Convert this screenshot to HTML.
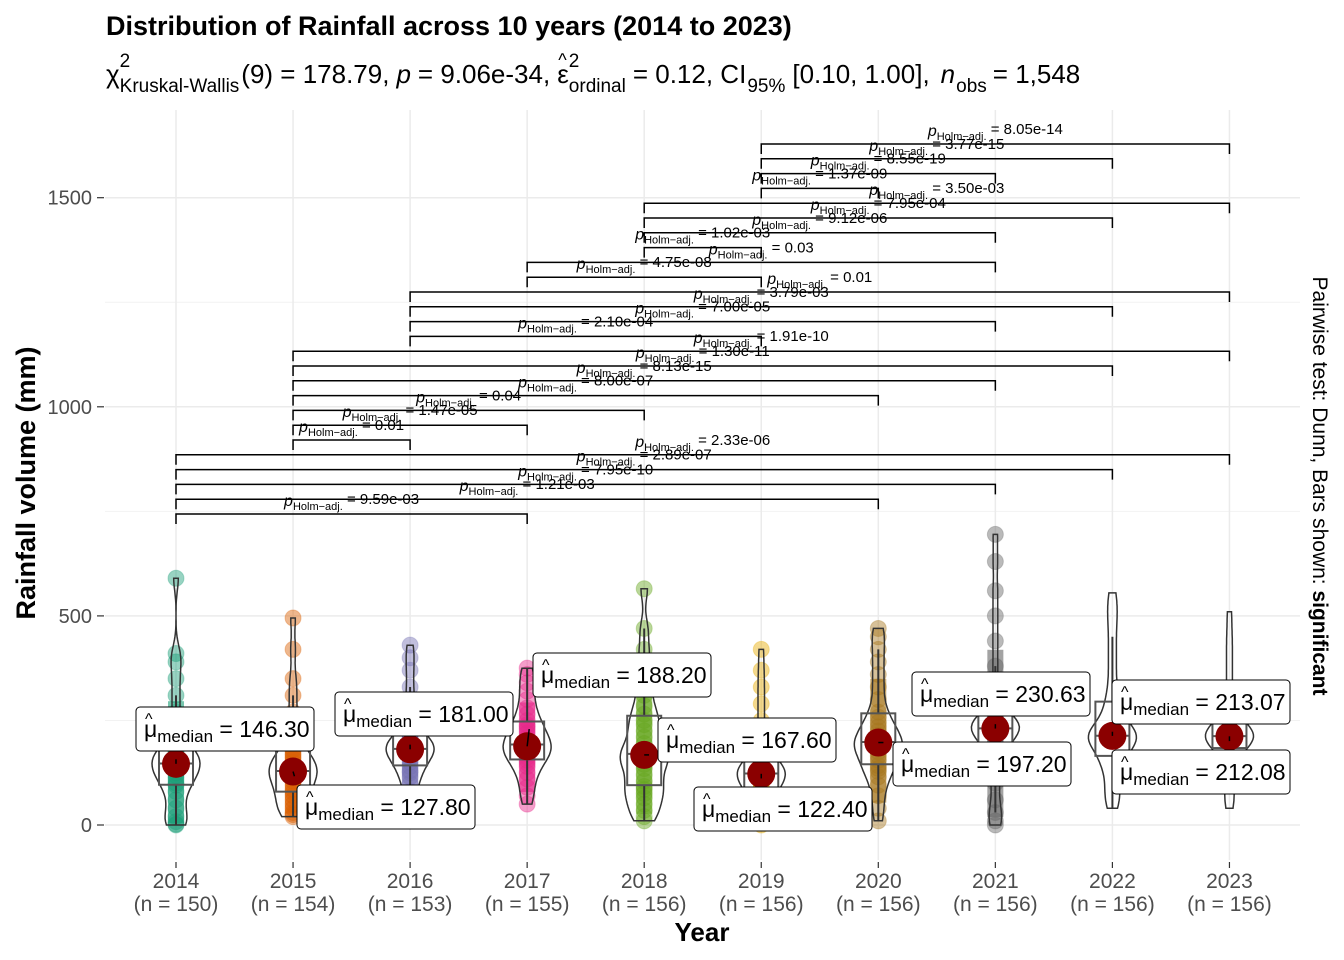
<!DOCTYPE html>
<html><head><meta charset="utf-8"><style>
html,body{margin:0;padding:0;background:#fff;}
svg{display:block;font-family:"Liberation Sans",Arial,sans-serif;}
#subtitle text{white-space:pre;}
</style></head><body>
<svg id="chart" width="1344" height="960" viewBox="0 0 1344 960" xmlns="http://www.w3.org/2000/svg">
<rect width="1344" height="960" fill="#fff"/>
<g id="grid"></g>
<g id="brackets"></g>
<g id="violins"></g>
<g id="labels"></g>
<g id="axes"></g>
<text x="106" y="35" font-size="27" font-weight="bold" fill="#000">Distribution of Rainfall across 10 years (2014 to 2023)</text>
<g id="subtitle" fill="#000"></g>
<text x="702" y="941" font-size="26" font-weight="bold" text-anchor="middle">Year</text>
<text transform="translate(35,483) rotate(-90)" font-size="27" font-weight="bold" text-anchor="middle">Rainfall volume (mm)</text>
<text transform="translate(1313,486) rotate(90)" font-size="21" text-anchor="middle">Pairwise test: Dunn, Bars shown: <tspan font-weight="bold">significant</tspan></text>
</svg>
<script>
const years = ['2014','2015','2016','2017','2018','2019','2020','2021','2022','2023'];
const counts = [150,154,153,155,156,156,156,156,156,156];
const medians = [146.30,127.80,181.00,188.20,167.60,122.40,197.20,230.63,213.07,212.08];
const yTicks = [0,500,1000,1500];
const pts2014 = [0,2,8,20,40,60,80,95,100,110,118,125,132,140,146,148,152,160,166,172,178,185,200,230,270,310,350,390,410,590];
const pts2015 = [20,25,30,40,50,60,70,78,85,95,105,112,120,125,128,130,135,140,150,158,165,172,180,200,230,270,310,350,420,495];
const pts2016 = [40,60,80,100,115,125,130,140,150,160,168,173,177,180,181,183,186,190,195,200,205,210,220,240,270,300,330,370,400,430];
const pts2017 = [50,70,90,110,125,140,148,155,162,170,176,182,186,188,190,195,200,210,220,228,235,240,250,265,280,300,320,340,360,375];
const pts2018 = [10,20,35,50,65,75,85,92,105,120,135,145,155,162,168,172,180,195,210,225,240,250,265,285,310,340,380,420,470,565];
const pts2019 = [0,10,25,40,55,65,75,82,90,98,105,110,115,120,122,124,128,132,138,142,146,150,160,180,210,250,290,330,370,420];
const pts2020 = [10,40,70,95,115,128,135,142,155,165,175,182,188,194,197,200,206,215,225,235,245,258,270,300,330,360,390,420,450,470];
const pts2021 = [0,10,30,60,100,130,155,170,185,198,210,218,224,228,230,232,235,240,245,250,255,258,280,320,380,440,500,560,630,695];
const pts2022 = [40,60,80,100,125,145,155,162,175,188,198,205,210,212,213,214,218,225,235,250,265,280,300,330,370,410,450,490,520,555];
const pts2023 = [40,60,85,110,140,160,175,182,190,198,204,208,210,211,212,213,215,220,225,230,235,240,250,270,300,340,380,420,460,510];
const pairA = ['2014','2014','2014','2014','2014','2015','2015','2015','2015','2015','2015','2015','2016','2016','2016','2016','2017','2017','2018','2018','2018','2018','2019','2019','2019','2019'];
const pairB = ['2017','2020','2021','2022','2023','2016','2017','2018','2020','2021','2022','2023','2019','2021','2022','2023','2019','2021','2019','2021','2022','2023','2020','2021','2022','2023'];
const pairP = ['9.59e-03','1.21e-03','7.95e-10','2.89e-07','2.33e-06','0.01','1.47e-05','0.04','8.00e-07','8.13e-15','1.30e-11','1.91e-10','2.10e-04','7.00e-05','3.79e-03','0.01','4.75e-08','0.03','1.02e-03','9.12e-06','7.95e-04','3.50e-03','1.37e-09','8.55e-19','3.77e-15','8.05e-14'];

const allPts = [pts2014,pts2015,pts2016,pts2017,pts2018,pts2019,pts2020,pts2021,pts2022,pts2023];
const colors = ['#1B9E77','#D95F02','#7570B3','#E7298A','#66A61E','#E6AB02','#A6761D','#666666',null,null];
const labelBoxes = [[136,707],[297,785],[335,692],[533,653],[658,718],[694,787],[893,742],[912,672],[1112,680],[1112,750]];

const NS='http://www.w3.org/2000/svg';
function el(tag, attrs, parent){const e=document.createElementNS(NS,tag);for(const k in attrs)e.setAttribute(k,attrs[k]);parent.appendChild(e);return e;}
const xOf = i => 176 + i*117.05;
const yOf = v => 825 - v*0.4182;
const xOfYear = y => xOf(years.indexOf(y));

// subtitle flowing layout
(function(){
 const sg=document.getElementById('subtitle');
 let x=106; const base=83; const SP=7;
 function seg(t,size,dy,it){const e=el('text',{x:x,y:base+dy,'font-size':size},sg);if(it)e.setAttribute('font-style','italic');e.textContent=t;return e.getComputedTextLength();}
 function stack(sup,sub){const a=seg(sup,19,-16),b=seg(sub,19,9);x+=Math.max(a,b)+2;}
 x+=seg('χ',26,0); stack('2','Kruskal-Wallis');
 x+=seg('(9) = 178.79,',26,0)+SP; x+=seg('p',26,0,true)+SP; x+=seg('= 9.06e-34,',26,0)+SP;
 const ex=x; x+=seg('ε',26,0); const hx=x; x=ex+1; seg('^',18,-17); x=hx;
 stack('2','ordinal'); x+=5;
 x+=seg('= 0.12, CI',26,0)+1; x+=seg('95%',19,9)+7; x+=seg('[0.10, 1.00],',26,0)+SP+4;
 x+=seg('n',26,0,true)+1; x+=seg('obs',19,9)+6; seg('= 1,548',26,0);
})();

const grid=document.getElementById('grid');
[250,750,1250].forEach(v=>{const l=el('line',{x1:105,x2:1300,y1:yOf(v),y2:yOf(v),stroke:'#f2f2f2','stroke-width':1},grid);

});
yTicks.forEach(v=>{const l=el('line',{x1:105,x2:1300,y1:yOf(v),y2:yOf(v),stroke:'#ebebeb','stroke-width':1.5},grid);

});
years.forEach((y,i)=>{const l=el('line',{x1:xOf(i),x2:xOf(i),y1:110,y2:860,stroke:'#ebebeb','stroke-width':1.5},grid);

});

const axes=document.getElementById('axes');
yTicks.forEach(v=>{
 const t=el('text',{x:92,y:yOf(v)+7,'font-size':20,'text-anchor':'end',fill:'#4d4d4d'},axes);t.textContent=v;
 
 
 const m=el('line',{x1:97,x2:104,y1:yOf(v),y2:yOf(v),stroke:'#333','stroke-width':1.2},axes);
 
 
});
years.forEach((y,i)=>{
 const m=el('line',{x1:xOf(i),x2:xOf(i),y1:862,y2:868,stroke:'#333','stroke-width':1.2},axes);
 
 
 const t=el('text',{x:xOf(i),y:888,'font-size':21,'text-anchor':'middle',fill:'#4d4d4d'},axes);t.textContent=y;
 
 
 const n=el('text',{x:xOf(i),y:911,'font-size':21,'text-anchor':'middle',fill:'#4d4d4d'},axes);n.textContent='(n = '+counts[i]+')';
 
 
});

// brackets
const br=document.getElementById('brackets');
pairA.forEach((a,k)=>{
 const x1=xOfYear(a), x2=xOfYear(pairB[k]); const y=514 - k*14.8;
 const g=el('g',{},br);
 
 
 el('path',{d:`M${x1},${y+10}V${y}H${x2}V${y+10}`,fill:'none',stroke:'#000','stroke-width':1.5},g);
 const t=el('text',{x:(x1+x2)/2,y:y-8,'font-size':15,'text-anchor':'middle',fill:'#000'},g);
 t.innerHTML=`<tspan font-style="italic" font-size="16">p</tspan><tspan font-size="11" dy="4">Holm−adj.</tspan><tspan dy="-6"> = ${pairP[k]}</tspan>`;
});

// violins, boxes, points
const vg=document.getElementById('violins');
function quant(a,p){const s=[...a].sort((x,y)=>x-y);const h=(s.length-1)*p;const lo=Math.floor(h);return s[lo]+(s[Math.min(lo+1,s.length-1)]-s[lo])*(h-lo);}
allPts.forEach((pts,i)=>{
 const cx=xOf(i); const g=el('g',{},vg);
 
 
 if(colors[i]){
  const q1=quant(pts,0.05),q9=quant(pts,0.85);
  el('rect',{x:cx-8,y:yOf(q9),width:16,height:yOf(q1)-yOf(q9),fill:colors[i],'fill-opacity':0.6},g);
  pts.forEach(v=>{const c=el('circle',{cx:cx,cy:yOf(v),r:8,fill:colors[i],'fill-opacity':0.45,stroke:colors[i],'stroke-opacity':0.3},g);
  
  });
 }
 const mn=Math.min(...pts), mx=Math.max(...pts); const bw=28; const N=80; const dens=[];
 for(let k=0;k<=N;k++){const v=mn+(mx-mn)*k/N;let d=0;pts.forEach(p=>{const z=(v-p)/bw;d+=Math.exp(-0.5*z*z);});dens.push([v,d]);}
 const dm=Math.max(...dens.map(d=>d[1]));
 let L='',R='';
 dens.forEach(([v,d],k)=>{const w=d/dm*24;L+=(k?'L':'M')+(cx-w).toFixed(1)+','+yOf(v).toFixed(1);});
 for(let k=dens.length-1;k>=0;k--){const w=dens[k][1]/dm*24;R+='L'+(cx+w).toFixed(1)+','+yOf(dens[k][0]).toFixed(1);}
 const vp=el('path',{d:L+R+'Z',fill:'none',stroke:'#333','stroke-width':1.5},g);
 
 
 const q1=quant(pts,0.25),q2=quant(pts,0.5),q3=quant(pts,0.75),iqr=q3-q1;
 const lo=Math.min(...pts.filter(v=>v>=q1-1.5*iqr)), hi=Math.max(...pts.filter(v=>v<=q3+1.5*iqr));
 el('line',{x1:cx,x2:cx,y1:yOf(q3),y2:yOf(hi),stroke:'#333','stroke-width':2},g);
 el('line',{x1:cx,x2:cx,y1:yOf(q1),y2:yOf(lo),stroke:'#333','stroke-width':2},g);
 const bx=el('rect',{x:cx-17,y:yOf(q3),width:34,height:yOf(q1)-yOf(q3),fill:'none',stroke:'#555','stroke-width':2},g);
 
 
 el('line',{x1:cx-17,x2:cx+17,y1:yOf(q2),y2:yOf(q2),stroke:'#555','stroke-width':2},g);
 const dot=el('circle',{cx:cx,cy:yOf(medians[i]),r:14,fill:'#8B0000'},g);
 
 
});

// median labels
const lg=document.getElementById('labels');
medians.forEach((m,i)=>{
 const [bx,by]=labelBoxes[i]; const w=178,h=44; const cx=xOf(i), cy=yOf(m);
 const g=el('g',{},lg);
 
 
 const tx=Math.max(bx,Math.min(cx,bx+w)), ty=Math.max(by,Math.min(cy,by+h));
 el('line',{x1:cx,y1:cy,x2:cx+(tx-cx)*0.35,y2:cy+(ty-cy)*0.35,stroke:'#000','stroke-width':1.5},g);
 el('rect',{x:bx,y:by,width:w,height:h,rx:4,fill:'#fff',stroke:'#000','stroke-width':1},g);
 const hat=el('text',{x:bx+9,y:by+17,'font-size':16},g);hat.textContent='^';
 const t=el('text',{x:bx+8,y:by+30,'font-size':23},g);
 t.innerHTML=`μ<tspan font-size="17" dy="5">median</tspan><tspan dy="-5"> = ${m.toFixed(2)}</tspan>`;
});
</script>
</body></html>
